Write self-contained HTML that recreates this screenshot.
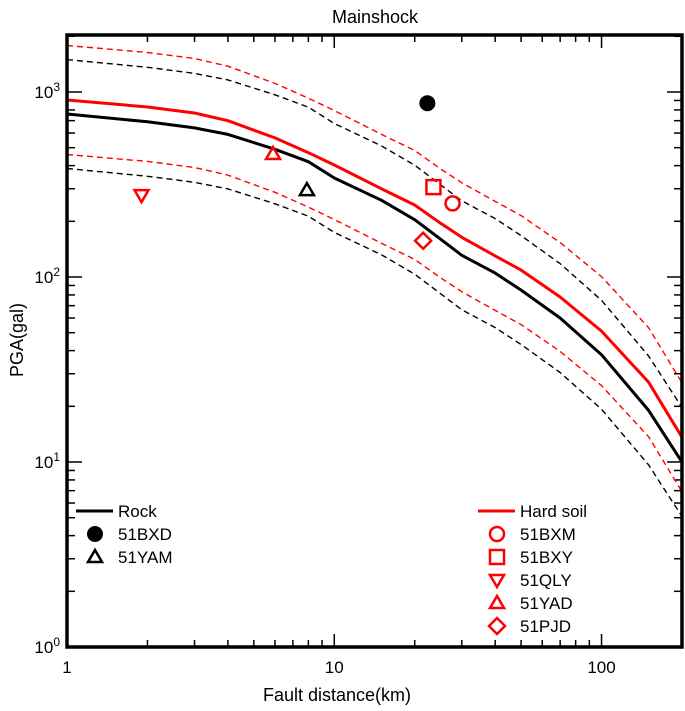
<!DOCTYPE html>
<html><head><meta charset="utf-8"><style>
html,body{margin:0;padding:0;background:#fff;}
svg{display:block;font-family:"Liberation Sans",sans-serif;}
</style></head><body>
<svg id="chart" width="685" height="711" viewBox="0 0 685 711"></svg>
<script>
const distances=[1,2,3,4,6,8,10,15,20,25,30,40,50,70,100,150,200];
const rockMedian=[760,690,640,590,490,420,343,260,204,160,131,105,85,60,38,19,10];
const hardSoilMedian=[905,830,770,700,565,470,403,300,245,195,164,130,109,78,51,27,13.6];
const rockSigmaFactor=1.97;
const soilSigmaFactor=1.97;
const stationNames=["51BXD","51YAM","51BXM","51BXY","51QLY","51YAD","51PJD"];
const stationDist=[22.3,7.9,27.7,23.5,1.9,5.9,21.5];
const stationPGA=[870,295,250,306,277,462,157];
const stationMarker=["circle-fill","tri-up","circle","square","tri-down","tri-up","diamond"];
const stationColor=["#000","#000","red","red","red","red","red"];
const xTickLabels=["1","10","100"];
const yTickExps=["0","1","2","3"];

const L=67,R=682,T=35,B=647;
const xMin=0,xMax=Math.log10(200),yMin=0,yMax=(B-T)/185;
const X=v=>L+(Math.log10(v)-xMin)/(xMax-xMin)*(R-L);
const Y=v=>B-(Math.log10(v)-yMin)/(yMax-yMin)*(B-T);
const svg=document.getElementById('chart');
const NS="http://www.w3.org/2000/svg";
function el(tag,attrs,parent){const e=document.createElementNS(NS,tag);for(const k in attrs)e.setAttribute(k,attrs[k]);(parent||svg).appendChild(e);return e;}

const defs=el('defs',{});const cp=el('clipPath',{id:'clip'},defs);el('rect',{x:L,y:T,width:R-L,height:B-T},cp);

let t=el('text',{x:375,y:23,'font-size':18,'text-anchor':'middle'});t.textContent="Mainshock";


t=el('text',{x:337,y:701,'font-size':18,'text-anchor':'middle'});t.textContent="Fault distance(km)";


t=el('text',{x:0,y:0,'font-size':18,'text-anchor':'middle',transform:'translate(23,340) rotate(-90)'});t.textContent="PGA(gal)";



const tg=el('g',{stroke:'#000','stroke-width':1.5});


for(let d=1;d<=200;d*=10){for(let m=1;m<10;m++){const v=d*m;if(v>200)break;const x=X(v);const len=m===1?13:7;
 el('line',{x1:x,y1:B,x2:x,y2:B-len},tg);el('line',{x1:x,y1:T,x2:x,y2:T+len},tg);}}
for(let d=1;d<=1000;d*=10){for(let m=1;m<10;m++){const v=d*m;if(Math.log10(v)>yMax)break;const y=Y(v);const len=m===1?15:8;
 el('line',{x1:L,y1:y,x2:L+len,y2:y},tg);el('line',{x1:R,y1:y,x2:R-len,y2:y},tg);}}
xTickLabels.forEach(s=>{const tx=el('text',{x:X(+s),y:673,'font-size':17,'text-anchor':'middle'});tx.textContent=s;
 
 });
yTickExps.forEach(s=>{const y=Y(Math.pow(10,+s));const tx=el('text',{x:60,y:y+6,'font-size':17,'text-anchor':'end'});
 const a=el('tspan',{},tx);a.textContent="10";const b=el('tspan',{dy:-7,'font-size':12},tx);b.textContent=s;
 
 });

function curve(vals,f,color,w,dash,name){const p=distances.map((d,i)=>(i?'L':'M')+X(d).toFixed(1)+','+Y(vals[i]*f).toFixed(1)).join(' ');
 const e=el('path',{d:p,fill:'none',stroke:color,'stroke-width':w,'clip-path':'url(#clip)','stroke-linejoin':'round'});if(dash)e.setAttribute('stroke-dasharray',dash);
 
 }
curve(rockMedian,rockSigmaFactor,'#000',1.4,'6,4','rock-upper-dashed');
curve(rockMedian,1/rockSigmaFactor,'#000',1.4,'6,4','rock-lower-dashed');
curve(hardSoilMedian,soilSigmaFactor,'red',1.4,'6,4','soil-upper-dashed');
curve(hardSoilMedian,1/soilSigmaFactor,'red',1.4,'6,4','soil-lower-dashed');
curve(rockMedian,1,'#000',3,null,'rock-median-line');
curve(hardSoilMedian,1,'red',3,null,'hard-soil-median-line');

function marker(type,x,y,c,parent){let e;const s=7;
 if(type==='circle-fill')e=el('circle',{cx:x,cy:y,r:8,fill:c},parent);
 else if(type==='circle')e=el('circle',{cx:x,cy:y,r:s,fill:'none',stroke:c,'stroke-width':2.5},parent);
 else if(type==='square')e=el('rect',{x:x-s,y:y-s,width:2*s,height:2*s,fill:'none',stroke:c,'stroke-width':2.5},parent);
 else if(type==='tri-up')e=el('polygon',{points:`${x},${y-7} ${x-7},${y+5} ${x+7},${y+5}`,fill:'none',stroke:c,'stroke-width':2.5},parent);
 else if(type==='tri-down')e=el('polygon',{points:`${x},${y+7} ${x-7},${y-5} ${x+7},${y-5}`,fill:'none',stroke:c,'stroke-width':2.5},parent);
 else e=el('polygon',{points:`${x},${y-8} ${x+8},${y} ${x},${y+8} ${x-8},${y}`,fill:'none',stroke:c,'stroke-width':2.5},parent);
 return e;}
stationNames.forEach((n,i)=>{const m=marker(stationMarker[i],X(stationDist[i]),Y(stationPGA[i]),stationColor[i]);
 
 });

const fr=el('rect',{x:L,y:T,width:R-L,height:B-T,fill:'none',stroke:'#000','stroke-width':3.5});



function legend(x0,y0,title,color,entries,name){const g=el('g',{});
 
 
 el('line',{x1:x0,y1:y0,x2:x0+37,y2:y0,stroke:color,'stroke-width':3},g);
 let tx=el('text',{x:x0+42,y:y0+6,'font-size':17},g);tx.textContent=title;
 entries.forEach((idx,k)=>{const y=y0+23*(k+1);marker(stationMarker[idx],x0+19,y,stationColor[idx],g);
  const tt=el('text',{x:x0+42,y:y+6,'font-size':17},g);tt.textContent=stationNames[idx];});}
legend(76,511,"Rock","#000",[0,1],'legend-rock');
legend(478,511,"Hard soil","red",[2,3,4,5,6],'legend-hard-soil');
</script>
</body></html>
